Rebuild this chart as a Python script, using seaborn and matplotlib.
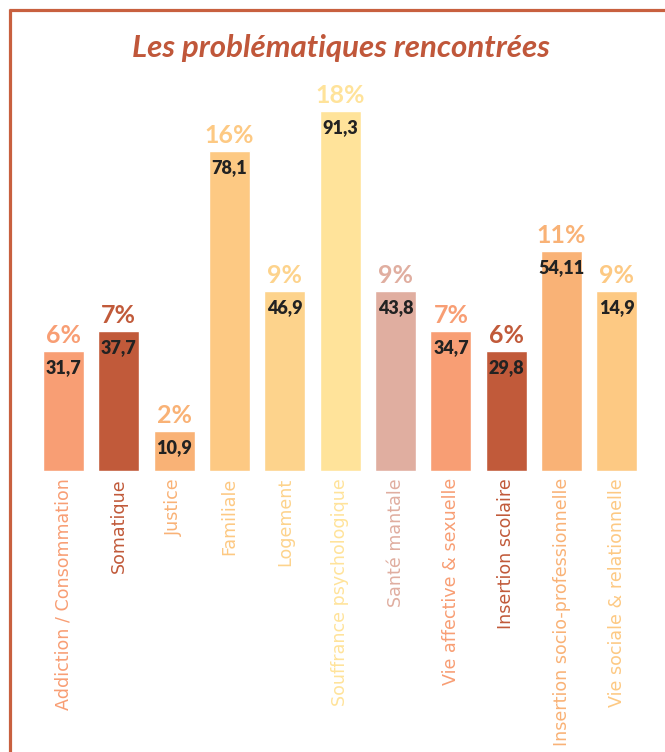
import matplotlib
matplotlib.use("Agg")
import matplotlib.pyplot as plt
from matplotlib.lines import Line2D
import seaborn as sns
import pandas as pd

categories = ["Addiction / Consommation", "Somatique", "Justice", "Familiale", "Logement",
              "Souffrance psychologique", "Santé mantale", "Vie affective & sexuelle",
              "Insertion scolaire", "Insertion socio-professionnelle", "Vie sociale & relationnelle"]
percents = [6, 7, 2, 16, 9, 18, 9, 7, 6, 11, 9]
values = [31.7, 37.7, 10.9, 78.1, 46.9, 91.3, 43.8, 34.7, 29.8, 54.11, 14.9]
colors = ["#F89E74", "#C15A3A", "#F9B276", "#FDC983", "#FDD38C", "#FFE39A",
          "#E0AEA0", "#F89E74", "#C15A3A", "#F9B276", "#FDC983"]
title = "Les problématiques rencontrées"

sns.set_theme(style="white")
plt.rcParams['font.family'] = ['Lato', 'DejaVu Sans']

df = pd.DataFrame({"cat": categories, "pct": percents})

W, H = 665, 752
fig = plt.figure(figsize=(W / 100, H / 100), dpi=100)
left_px, right_px = 35.8, 35.8 + 11 * 55.35
bottom_px, top_px = 471, 111
ax = fig.add_axes([left_px / W, (H - bottom_px) / H, (right_px - left_px) / W, (bottom_px - top_px) / H])

sns.barplot(data=df, x="cat", y="pct", hue="cat", palette=colors, legend=False,
            width=0.74, saturation=1, ax=ax)
ax.set_xlim(-0.5, 10.5)
ax.set_ylim(0, 18)
for s in ax.spines.values():
    s.set_visible(False)
ax.set_yticks([])
ax.set_xlabel("")
ax.set_ylabel("")
ax.set_xticks(range(len(categories)))
ax.set_xticklabels(categories, rotation=90, va='top', ha='center')
ax.tick_params(axis='x', length=0, pad=5)
for lbl, c in zip(ax.get_xticklabels(), colors):
    lbl.set_color(c)
    lbl.set_fontfamily(['DejaVu Sans'])
    lbl.set_fontsize(12.6)

for i, (p, v, c) in enumerate(zip(percents, values, colors)):
    ax.annotate(f"{p}%", (i, p), xytext=(0, 3), textcoords="offset points",
                ha='center', va='bottom', fontsize=18, fontweight='bold', color=c,
                annotation_clip=False)
    ax.annotate(str(v).replace('.', ','), (i, p), xytext=(0, -12), textcoords="offset points",
                ha='center', va='center', fontsize=13, fontweight='heavy', color="#222222",
                annotation_clip=False)

fig.text(341 / W, 1 - 48 / H, title, ha='center', va='center', fontsize=22.5,
         fontstyle='italic', fontweight='bold', color="#C0573A")

border = "#C8603F"
fig.add_artist(Line2D([9 / W, 1], [1 - 10 / H, 1 - 10 / H], color=border, lw=2.3,
                      transform=fig.transFigure, solid_capstyle='butt'))
fig.add_artist(Line2D([10 / W, 10 / W], [0, 1 - 9 / H], color=border, lw=2.3,
                      transform=fig.transFigure, solid_capstyle='butt'))

fig.savefig("out.png", dpi=100, facecolor="white")
